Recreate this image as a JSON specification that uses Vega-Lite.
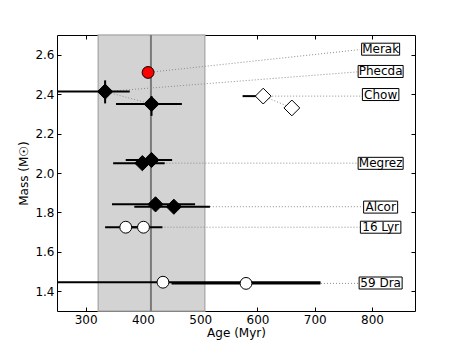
{
  "$schema": "https://vega.github.io/schema/vega-lite/v6.json",
  "width": 358,
  "height": 276,
  "autosize": {"type": "none"},
  "padding": {"left": 57, "top": 35, "right": 46, "bottom": 35},
  "background": "white",
  "config": {
    "view": {"stroke": "black", "strokeWidth": 1},
    "font": "DejaVu Sans",
    "axis": {
      "domain": false,
      "grid": false,
      "labelFont": "DejaVu Sans",
      "labelFontSize": 12,
      "labelColor": "black",
      "titleFont": "DejaVu Sans",
      "titleFontSize": 12,
      "titleFontWeight": "normal",
      "titleColor": "black",
      "tickColor": "black",
      "tickWidth": 1
    }
  },
  "datasets": {
    "band": [{"lo": 322, "hi": 508, "mid": 414}],
    "points": [
      {"star": "Merak", "kind": "red", "age": 409, "mass": 2.51},
      {"star": "Phecda", "kind": "filled", "age": 334, "mass": 2.413, "xlo": 200, "xhi": 377, "ylo": 2.353, "yhi": 2.47},
      {"star": "Phecda", "kind": "filled", "age": 415, "mass": 2.35, "xlo": 353, "xhi": 468, "ylo": 2.29, "yhi": 2.39},
      {"star": "Chow", "kind": "open", "age": 610, "mass": 2.39, "xlo": 574, "xhi": 612},
      {"star": "Chow", "kind": "open", "age": 660, "mass": 2.33},
      {"star": "Megrez", "kind": "filled", "age": 399, "mass": 2.05, "xlo": 348, "xhi": 438},
      {"star": "Megrez", "kind": "filled", "age": 415, "mass": 2.066, "xlo": 370, "xhi": 451},
      {"star": "Alcor", "kind": "filled", "age": 422, "mass": 1.841, "xlo": 346, "xhi": 491},
      {"star": "Alcor", "kind": "filled", "age": 454, "mass": 1.829, "xlo": 385, "xhi": 517},
      {"star": "16 Lyr", "kind": "opencircle", "age": 370, "mass": 1.725, "xlo": 334, "xhi": 406},
      {"star": "16 Lyr", "kind": "opencircle", "age": 401, "mass": 1.725, "xlo": 366, "xhi": 434},
      {"star": "59 Dra", "kind": "opencircle", "age": 435, "mass": 1.446, "xlo": 150, "xhi": 710},
      {"star": "59 Dra", "kind": "opencircle", "age": 580, "mass": 1.44, "xlo": 450, "xhi": 710}
    ],
    "links": [
      {"star": "Merak", "a1": 409, "m1": 2.51, "a2": 779, "m2": 2.626},
      {"star": "Phecda", "a1": 334, "m1": 2.413, "a2": 775, "m2": 2.513},
      {"star": "Phecda", "a1": 334, "m1": 2.413, "a2": 415, "m2": 2.35},
      {"star": "Chow", "a1": 610, "m1": 2.39, "a2": 784, "m2": 2.39},
      {"star": "Chow", "a1": 610, "m1": 2.39, "a2": 660, "m2": 2.33},
      {"star": "Megrez", "a1": 399, "m1": 2.05, "a2": 776, "m2": 2.05},
      {"star": "Alcor", "a1": 454, "m1": 1.829, "a2": 786, "m2": 1.829},
      {"star": "16 Lyr", "a1": 401, "m1": 1.725, "a2": 780, "m2": 1.725},
      {"star": "59 Dra", "a1": 580, "m1": 1.44, "a2": 777, "m2": 1.44}
    ],
    "labels": [
      {"star": "Merak", "age": 815, "mass": 2.628},
      {"star": "Phecda", "age": 815, "mass": 2.515},
      {"star": "Chow", "age": 815, "mass": 2.398},
      {"star": "Megrez", "age": 815, "mass": 2.049},
      {"star": "Alcor", "age": 815, "mass": 1.827},
      {"star": "16 Lyr", "age": 815, "mass": 1.725},
      {"star": "59 Dra", "age": 815, "mass": 1.442}
    ]
  },
  "resolve": {
    "axis": {"x": "independent", "y": "independent"},
    "scale": {"shape": "independent", "fill": "independent", "size": "independent"}
  },
  "layer": [
    {
      "data": {"name": "band"},
      "mark": {"type": "rect", "fill": "#d3d3d3", "stroke": "#b0b0b0", "strokeWidth": 1.5},
      "encoding": {
        "x": {"field": "lo", "type": "quantitative", "scale": {"domain": [250, 875], "nice": false, "zero": false}, "axis": null},
        "x2": {"field": "hi"}
      }
    },
    {
      "data": {"name": "band"},
      "mark": {"type": "rule", "color": "#7a7a7a", "strokeWidth": 2},
      "encoding": {
        "x": {"field": "mid", "type": "quantitative", "axis": null}
      }
    },
    {
      "data": {"name": "links"},
      "mark": {"type": "rule", "color": "#8c8c8c", "strokeWidth": 1, "strokeDash": [1, 2]},
      "encoding": {
        "x": {"field": "a1", "type": "quantitative", "scale": {"domain": [250, 875], "nice": false, "zero": false},
          "axis": {"orient": "bottom", "values": [300, 400, 500, 600, 700, 800], "ticks": false, "labelPadding": 3, "format": "d", "title": "Age (Myr)", "titlePadding": 2}},
        "y": {"field": "m1", "type": "quantitative", "scale": {"domain": [1.3, 2.7], "nice": false, "zero": false},
          "axis": {"orient": "left", "values": [1.4, 1.6, 1.8, 2.0, 2.2, 2.4, 2.6], "ticks": false, "labelPadding": 3, "format": ".1f", "title": "Mass (M☉)", "titlePadding": 4}},
        "x2": {"field": "a2"},
        "y2": {"field": "m2"}
      }
    },
    {
      "data": {"name": "points"},
      "transform": [{"filter": "isValid(datum.xlo)"}],
      "mark": {"type": "rule", "color": "black", "strokeWidth": 2, "clip": true},
      "encoding": {
        "x": {"field": "xlo", "type": "quantitative",
          "axis": {"orient": "bottom", "values": [300, 400, 500, 600, 700, 800], "labels": false, "title": null, "tickSize": -4}},
        "x2": {"field": "xhi"},
        "y": {"field": "mass", "type": "quantitative",
          "axis": {"orient": "left", "values": [1.4, 1.6, 1.8, 2.0, 2.2, 2.4, 2.6], "labels": false, "title": null, "tickSize": -4}}
      }
    },
    {
      "data": {"name": "points"},
      "transform": [{"filter": "isValid(datum.ylo)"}],
      "mark": {"type": "rule", "color": "black", "strokeWidth": 2},
      "encoding": {
        "x": {"field": "age", "type": "quantitative", "axis": null},
        "y": {"field": "ylo", "type": "quantitative", "axis": null},
        "y2": {"field": "yhi"}
      }
    },
    {
      "data": {"name": "points"},
      "mark": {"type": "point", "filled": true, "opacity": 1, "stroke": "black", "strokeWidth": 1},
      "encoding": {
        "x": {"field": "age", "type": "quantitative",
          "axis": {"orient": "top", "values": [300, 400, 500, 600, 700, 800], "labels": false, "title": null, "tickSize": -4}},
        "y": {"field": "mass", "type": "quantitative",
          "axis": {"orient": "right", "values": [1.4, 1.6, 1.8, 2.0, 2.2, 2.4, 2.6], "labels": false, "title": null, "tickSize": -4}},
        "shape": {"field": "kind", "type": "nominal", "legend": null,
          "scale": {"type": "ordinal", "domain": ["filled", "open", "red", "opencircle"], "range": ["diamond", "diamond", "circle", "circle"]}},
        "fill": {"field": "kind", "type": "nominal", "legend": null,
          "scale": {"type": "ordinal", "domain": ["filled", "open", "red", "opencircle"], "range": ["black", "white", "#ff0000", "white"]}},
        "size": {"field": "kind", "type": "nominal", "legend": null,
          "scale": {"type": "ordinal", "domain": ["filled", "open", "red", "opencircle"], "range": [230, 250, 140, 140]}}
      }
    },
    {
      "data": {"name": "labels"},
      "mark": {"type": "point", "filled": true, "fill": "white", "opacity": 1, "stroke": "black", "strokeWidth": 1, "size": 10000},
      "encoding": {
        "x": {"field": "age", "type": "quantitative", "axis": null},
        "y": {"field": "mass", "type": "quantitative", "axis": null},
        "shape": {"field": "star", "type": "nominal", "legend": null,
          "scale": {"type": "ordinal", "domain": ["Merak", "Phecda", "Chow", "Megrez", "Alcor", "16 Lyr", "59 Dra"],
            "range": [
              "M-0.38,-0.12H0.38V0.12H-0.38Z",
              "M-0.45,-0.12H0.45V0.12H-0.45Z",
              "M-0.365,-0.12H0.365V0.12H-0.365Z",
              "M-0.45,-0.12H0.45V0.12H-0.45Z",
              "M-0.34,-0.12H0.34V0.12H-0.34Z",
              "M-0.405,-0.12H0.405V0.12H-0.405Z",
              "M-0.43,-0.12H0.43V0.12H-0.43Z"
            ]}}
      }
    },
    {
      "data": {"name": "labels"},
      "mark": {"type": "text", "font": "DejaVu Sans", "fontSize": 12, "color": "black", "align": "center", "baseline": "middle"},
      "encoding": {
        "x": {"field": "age", "type": "quantitative", "axis": null},
        "y": {"field": "mass", "type": "quantitative", "axis": null},
        "text": {"field": "star", "type": "nominal"}
      }
    }
  ]
}
